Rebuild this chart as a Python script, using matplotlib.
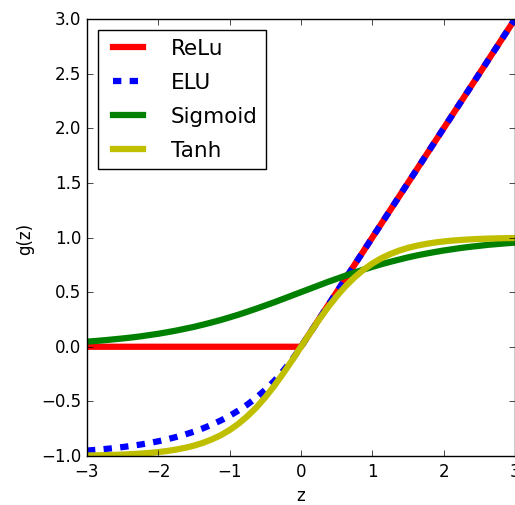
import matplotlib
matplotlib.use('Agg')
import matplotlib.pyplot as plt

# z samples (every 0.125) and the curve values
z = [-3.0, -2.875, -2.75, -2.625, -2.5, -2.375, -2.25, -2.125,
     -2.0, -1.875, -1.75, -1.625, -1.5, -1.375, -1.25, -1.125,
     -1.0, -0.875, -0.75, -0.625, -0.5, -0.375, -0.25, -0.125,
     0.0,
     0.125, 0.25, 0.375, 0.5, 0.625, 0.75, 0.875, 1.0,
     1.125, 1.25, 1.375, 1.5, 1.625, 1.75, 1.875, 2.0,
     2.125, 2.25, 2.375, 2.5, 2.625, 2.75, 2.875, 3.0]

relu = [0, 0, 0, 0, 0, 0, 0, 0,
        0, 0, 0, 0, 0, 0, 0, 0,
        0, 0, 0, 0, 0, 0, 0, 0,
        0,
        0.125, 0.25, 0.375, 0.5, 0.625, 0.75, 0.875, 1.0,
        1.125, 1.25, 1.375, 1.5, 1.625, 1.75, 1.875, 2.0,
        2.125, 2.25, 2.375, 2.5, 2.625, 2.75, 2.875, 3.0]

elu = [-0.950, -0.944, -0.936, -0.928, -0.918, -0.907, -0.895, -0.881,
       -0.865, -0.847, -0.826, -0.803, -0.777, -0.747, -0.713, -0.675,
       -0.632, -0.583, -0.528, -0.465, -0.393, -0.313, -0.221, -0.118,
       0.0,
       0.125, 0.25, 0.375, 0.5, 0.625, 0.75, 0.875, 1.0,
       1.125, 1.25, 1.375, 1.5, 1.625, 1.75, 1.875, 2.0,
       2.125, 2.25, 2.375, 2.5, 2.625, 2.75, 2.875, 3.0]

sigmoid = [0.047, 0.053, 0.060, 0.068, 0.076, 0.085, 0.095, 0.107,
           0.119, 0.133, 0.148, 0.165, 0.182, 0.202, 0.223, 0.245,
           0.269, 0.294, 0.321, 0.349, 0.378, 0.407, 0.438, 0.469,
           0.5,
           0.531, 0.562, 0.593, 0.622, 0.651, 0.679, 0.706, 0.731,
           0.755, 0.777, 0.798, 0.818, 0.836, 0.852, 0.867, 0.881,
           0.893, 0.905, 0.915, 0.924, 0.933, 0.940, 0.947, 0.953]

tanh = [-0.995, -0.994, -0.992, -0.990, -0.987, -0.983, -0.978, -0.972,
        -0.964, -0.954, -0.941, -0.925, -0.905, -0.880, -0.848, -0.810,
        -0.762, -0.704, -0.635, -0.555, -0.462, -0.358, -0.245, -0.124,
        0.0,
        0.124, 0.245, 0.358, 0.462, 0.555, 0.635, 0.704, 0.762,
        0.810, 0.848, 0.880, 0.905, 0.925, 0.941, 0.954, 0.964,
        0.972, 0.978, 0.983, 0.987, 0.990, 0.992, 0.994, 0.995]

plt.style.use('classic')

fig = plt.figure(figsize=(5.15, 5.06), dpi=100, facecolor='white')
ax = fig.add_axes([87 / 515, 49 / 506, 428 / 515, 437 / 506])

ax.plot(z, relu, 'r', linewidth=4.5, label='ReLu')
ax.plot(z, elu, 'b--', linewidth=4.5, label='ELU')
ax.plot(z, sigmoid, 'g', linewidth=4.5, label='Sigmoid')
ax.plot(z, tanh, 'y', linewidth=4.5, label='Tanh')

ax.set_xlim(-3, 3)
ax.set_ylim(-1, 3)
ax.set_xlabel('z')
ax.set_ylabel('g(z)')
ax.legend(loc=2, fontsize=15.5, handletextpad=1.0, labelspacing=0.65)

fig.savefig('out.png', dpi=100, facecolor='white')
